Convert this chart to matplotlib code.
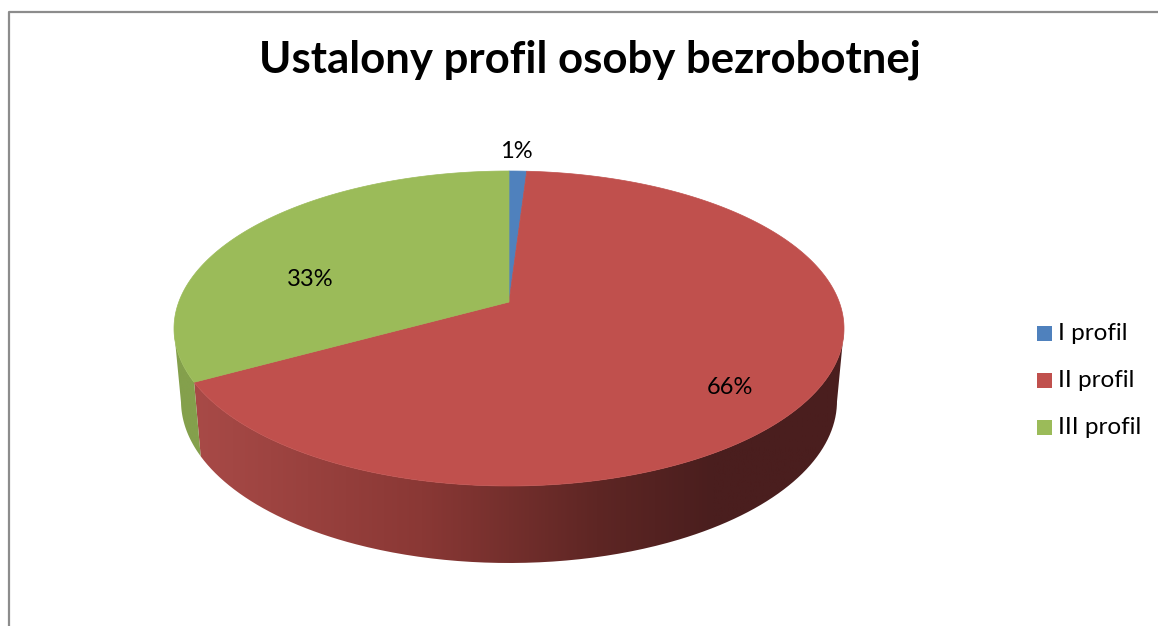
import numpy as np
import matplotlib
matplotlib.use("Agg")
import matplotlib.pyplot as plt
from matplotlib.colors import LinearSegmentedColormap
from matplotlib.patches import PathPatch, Rectangle
from matplotlib.path import Path

plt.rcParams['font.family'] = ['Lato', 'DejaVu Sans']

# Data
title = "Ustalony profil osoby bezrobotnej"
categories = ["I profil", "II profil", "III profil"]
percent = [1, 66, 33]
colors = ["#4F81BD", "#C0504D", "#9BBB59"]

# Pie geometry in pixels
cx, top_cy, top_rx, top_ry = 509, 328.5, 335, 157.5
bot_cy, bot_rx, bot_ry = 401, 328, 162
k = 0.168   # perspective, moves the apex up from the ellipse centre
W, H = 1158, 626


def rim(a0, a1):
    # a is degrees clockwise from 12 o'clock, returns offsets from the ellipse centre (y up)
    a = np.radians(np.linspace(a0, a1, max(int(abs(a1 - a0) * 2), 2)))
    u, v = np.sin(a), np.cos(a)
    w = 1 + k * v
    x = top_rx * np.sqrt(1 - k ** 2) * u / w
    y = top_ry * (v + k) / w
    return x, y


fig = plt.figure(figsize=(W / 100, H / 100), dpi=100)
ax = fig.add_axes([0, 0, 1, 1])
ax.set_xlim(0, W)
ax.set_ylim(H, 0)
ax.axis("off")

# Frame, cut off by the image on the right and at the bottom
ax.plot([8.5, 8.5, W + 5], [H + 5, 12, 12], color="#8c8c8c", lw=1.6)

side_cmaps = [
    LinearSegmentedColormap.from_list("b", ["#3f6797", "#3f6797"]),
    LinearSegmentedColormap.from_list("r", [(0, "#A84A47"), (0.35, "#8A3835"), (0.62, "#5E2624"),
                                            (0.8, "#4A1E1E"), (1, "#4A1E1E")]),
    LinearSegmentedColormap.from_list("g", ["#84A04C", "#84A04C"]),
]
gradient = np.linspace(0, 1, 256).reshape(1, -1)

start = 0
for value, color, cmap in zip(percent, colors, side_cmaps):
    end = start + value * 3.6
    x, y = rim(start, end)

    # Side wall, only the part of the rim below the ellipse centre
    front = y <= 0
    if front.sum() > 1:
        xf, yf = x[front], y[front]
        sx_top = cx + xf
        sy_top = top_cy - yf
        sx_bot = cx + xf * bot_rx / top_rx
        sy_bot = bot_cy - yf * bot_ry / top_ry
        verts = np.column_stack([np.r_[sx_top, sx_bot[::-1]], np.r_[sy_top, sy_bot[::-1]]])
        verts = np.vstack([verts, verts[0]])
        wall = PathPatch(Path(verts), facecolor="none", edgecolor="none")
        ax.add_patch(wall)
        im = ax.imshow(gradient, cmap=cmap, aspect="auto", zorder=1,
                       extent=[verts[:, 0].min(), verts[:, 0].max(), 600, 300])
        im.set_clip_path(wall)

    # Top face
    ax.fill(np.r_[cx, cx + x], np.r_[top_cy - top_ry * k, top_cy - y], color=color, lw=0.5, zorder=2)
    start = end

ax.set_xlim(0, W)
ax.set_ylim(H, 0)

# Text
ax.text(590, 60, title, fontsize=31.5, fontweight="bold", ha="center", va="center", color="black")
label_pos = [(516, 152), (730, 387), (310, 280)]
for value, (lx, ly) in zip(percent, label_pos):
    ax.text(lx, ly, f"{value}%", fontsize=17, ha="center", va="center", color="black", zorder=3)

# Legend
legend_y = [333.5, 380.5, 427.5]
for name, color, ly in zip(categories, colors, legend_y):
    ax.add_patch(Rectangle((1037, ly - 7.5), 15, 15, facecolor=color, edgecolor="none"))
    ax.text(1058, ly, name, fontsize=17.5, ha="left", va="center", color="black")

fig.savefig("out.png", dpi=100)
